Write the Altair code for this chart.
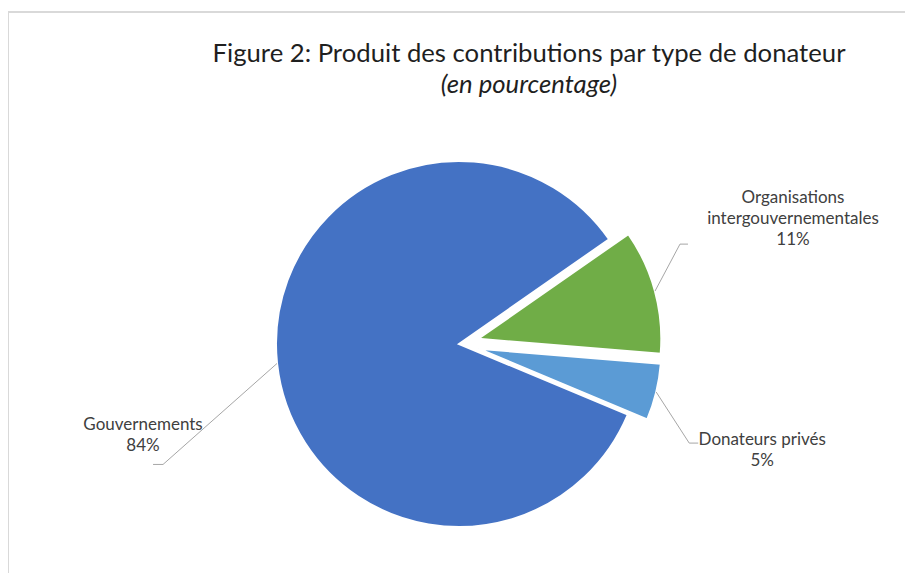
import math
import altair as alt
import pandas as pd

# ---- data -------------------------------------------------------------
categories = ["Organisations intergouvernementales", "Donateurs privés", "Gouvernements"]
label_lines = ["Organisations\nintergouvernementales", "Donateurs privés", "Gouvernements"]
values = [11, 5, 84]

title_text = "Figure 2: Produit des contributions par type de donateur"
subtitle_text = "(en pourcentage)"

# ---- style / layout ---------------------------------------------------
colors = ["#70AD47", "#5B9BD5", "#4472C4"]
W, H = 897, 565
CX, CY, R = 451, 336, 183
START = math.radians(55.1)
explode = [20, 20, 0]
# leader-line bend offsets (from the arc point), horizontal tail, text offset
lead_bx = [25, 33, -114]
lead_by = [-47, 51, 101]
lead_hx = [8, 9, -10]
text_dx = [105, 64, -10]
text_dy = [-46, -3, -39]

df = pd.DataFrame({
    "cat": categories, "lab": label_lines, "value": values, "idx": list(range(len(values))),
    "explode": explode, "bx": lead_bx, "by": lead_by, "hx": lead_hx, "tx": text_dx, "ty": text_dy,
})

base = (
    alt.Chart(df)
    .transform_joinaggregate(total="sum(value)")
    .transform_window(cum="sum(value)", sort=[alt.SortField("idx")], frame=[None, 0])
    .transform_calculate(t1=f"{START} + 2*PI*datum.cum/datum.total")
    .transform_calculate(t0="datum.t1 - 2*PI*datum.value/datum.total")
    .transform_calculate(mid="(datum.t0 + datum.t1)/2")
    .transform_calculate(cx=f"{CX} + datum.explode*sin(datum.mid)")
    .transform_calculate(cy=f"{CY} - datum.explode*cos(datum.mid)")
    .transform_calculate(sx=f"datum.cx + {R}*sin(datum.mid)")
    .transform_calculate(sy=f"datum.cy - {R}*cos(datum.mid)")
    .transform_calculate(bxp="datum.sx + datum.bx")
    .transform_calculate(byp="datum.sy + datum.by")
    .transform_calculate(ex="datum.bxp + datum.hx")
    .transform_calculate(txp="datum.ex + datum.tx")
    .transform_calculate(typ="datum.byp + datum.ty")
    .transform_calculate(txt="datum.lab + '\\n' + datum.value + '%'")
)

arcs = base.mark_arc(radius=R, stroke="white", strokeWidth=2).encode(
    theta=alt.Theta("t0:Q", scale=None, stack=False),
    theta2=alt.Theta2("t1:Q"),
    x=alt.X("cx:Q", scale=None),
    y=alt.Y("cy:Q", scale=None),
    color=alt.Color("cat:N", scale=alt.Scale(domain=categories, range=colors), legend=None),
)

lead1 = base.mark_rule(color="#A6A6A6", strokeWidth=1).encode(
    x=alt.X("sx:Q", scale=None), y=alt.Y("sy:Q", scale=None),
    x2=alt.X2("bxp:Q"), y2=alt.Y2("byp:Q"),
)
lead2 = base.mark_rule(color="#A6A6A6", strokeWidth=1).encode(
    x=alt.X("bxp:Q", scale=None), y=alt.Y("byp:Q", scale=None),
    x2=alt.X2("ex:Q"),
)

labels = base.mark_text(
    font="Lato", fontSize=17, color="#404040", lineBreak="\n",
    align="center", baseline="middle", lineHeight=21,
).encode(
    x=alt.X("txp:Q", scale=None), y=alt.Y("typ:Q", scale=None), text="txt:N",
)

tdf = pd.DataFrame({"t": [title_text], "s": [subtitle_text]})
title = alt.Chart(tdf).mark_text(
    font="Lato", fontSize=25.7, color="#1f1f1f", align="center", baseline="alphabetic",
).encode(x=alt.value(521), y=alt.value(54), text="t:N")
subtitle = alt.Chart(tdf).mark_text(
    font="Lato", fontSize=25.7, fontStyle="italic", color="#1f1f1f", align="center", baseline="alphabetic",
).encode(x=alt.value(521), y=alt.value(85), text="s:N")

frame_top = alt.Chart(tdf).mark_rule(color="#D9D9D9", strokeWidth=2).encode(
    x=alt.value(0), x2=alt.value(W), y=alt.value(4))
frame_left = alt.Chart(tdf).mark_rule(color="#D9D9D9", strokeWidth=2).encode(
    x=alt.value(0), y=alt.value(4), y2=alt.value(H))

chart = (
    alt.layer(frame_top, frame_left, arcs, lead1, lead2, labels, title, subtitle)
    .properties(width=W, height=H, padding=0, autosize="none")
    .configure_view(strokeWidth=0)
)

chart.save("out.html", embed_options={"renderer": "svg", "actions": False})
